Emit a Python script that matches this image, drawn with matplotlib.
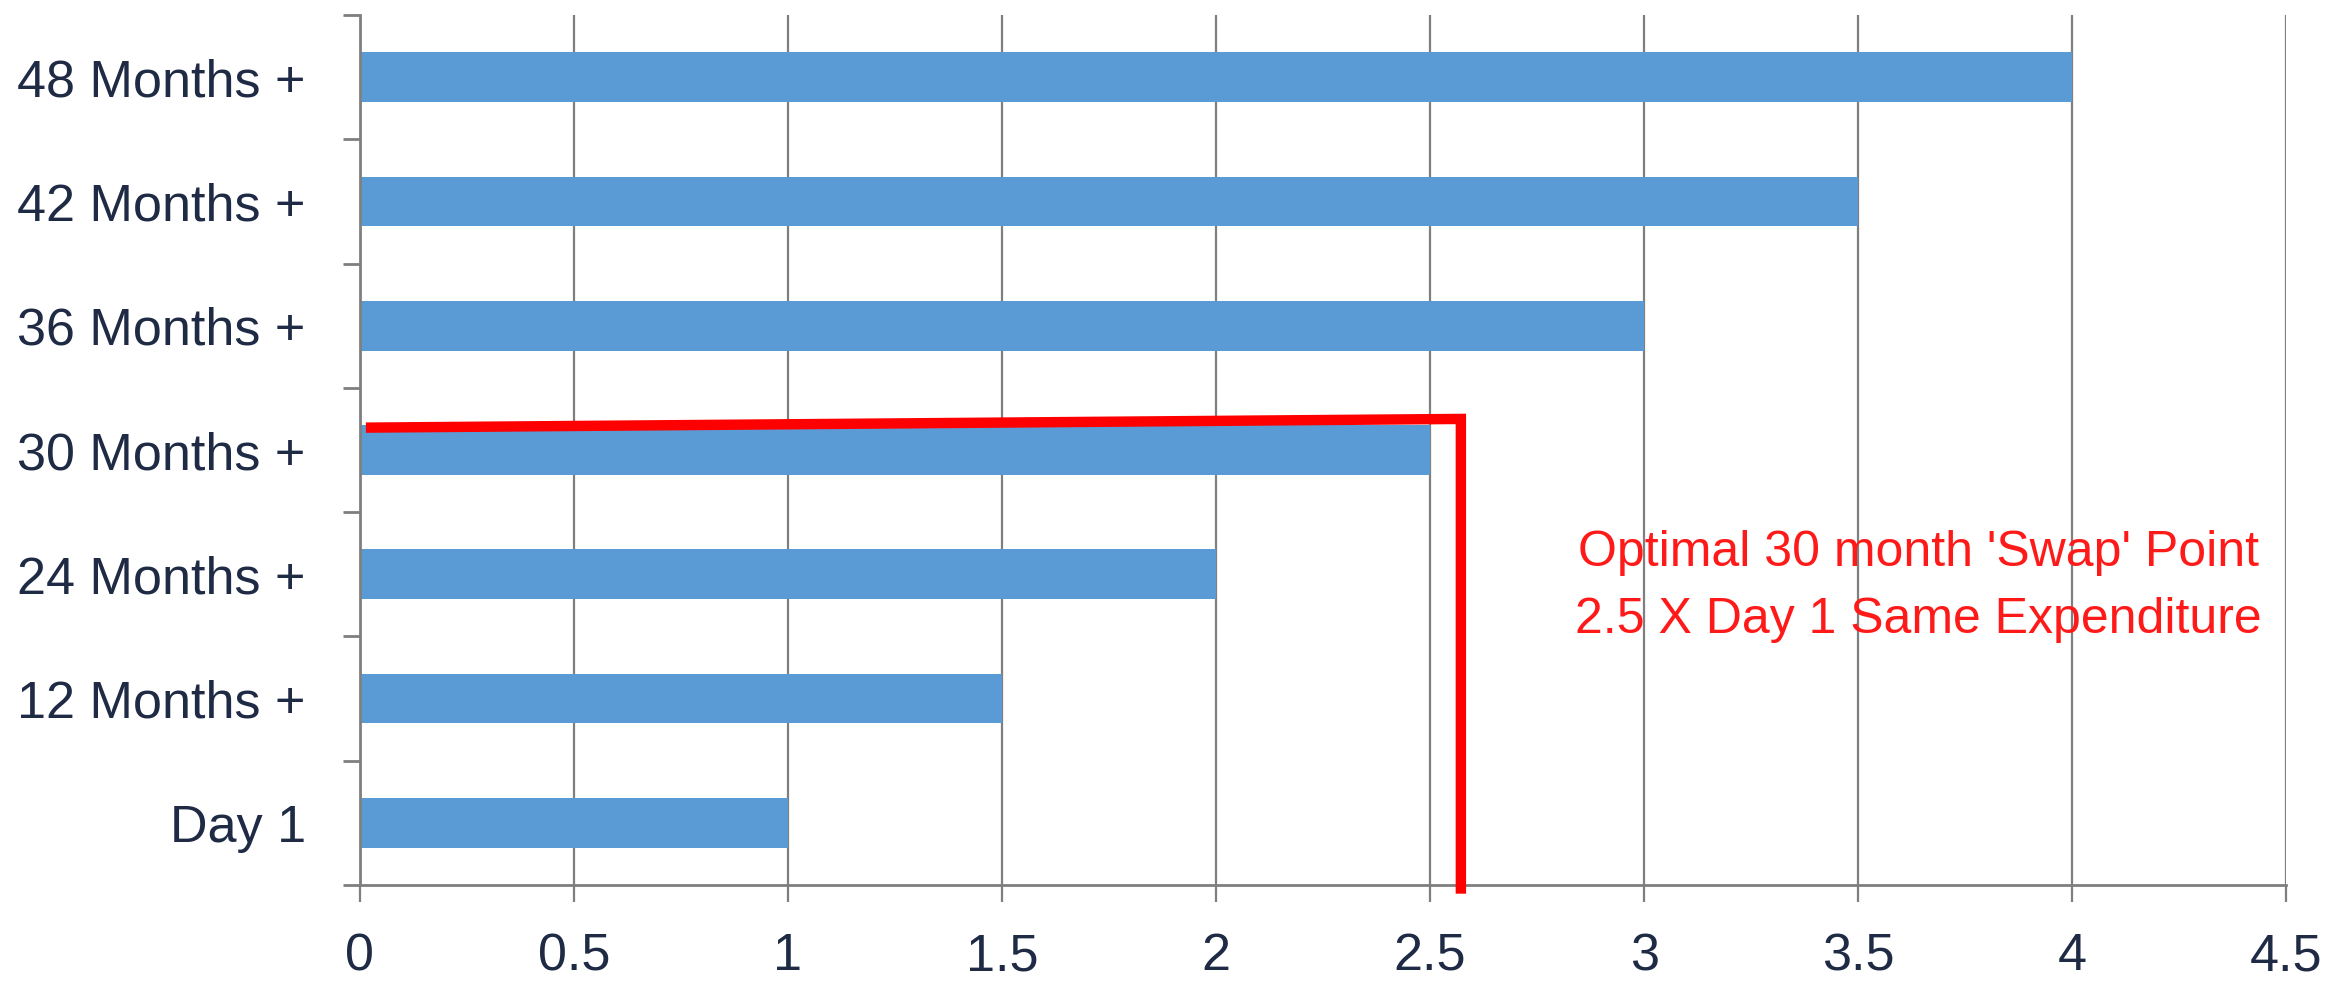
import matplotlib
matplotlib.use("Agg")
import matplotlib.pyplot as plt
import numpy as np

categories = ["Day 1", "12 Months +", "24 Months +", "30 Months +", "36 Months +", "42 Months +", "48 Months +"]
values = [1.0, 1.5, 2.0, 2.5, 3.0, 3.5, 4.0]
xticks = [0, 0.5, 1, 1.5, 2, 2.5, 3, 3.5, 4, 4.5]
xtick_labels = ["0", "0.5", "1", "1.5", "2", "2.5", "3", "3.5", "4", "4.5"]
annot_lines = ["Optimal 30 month 'Swap' Point", "2.5 X Day 1 Same Expenditure"]
red_path_x = [0.014, 2.572, 2.572]
red_path_y = [3.18, 3.25, -0.57]

plt.rcParams['font.family'] = ['Liberation Sans', 'DejaVu Sans']

fig = plt.figure(figsize=(23.4, 9.82), dpi=100)
ax = fig.add_axes([0.1538, 0.0988, 0.977 - 0.1538, 0.9847 - 0.0988])

grid_c = '#7f7f7f'
text_c = '#1f2a44'

y = np.arange(len(categories))
ax.set_axisbelow(True)
ax.barh(y, values, height=0.4, color='#5B9BD5', zorder=2)

ax.set_xlim(0, 4.5)
ax.set_ylim(-0.5, len(categories) - 0.5)

ax.set_xticks(xticks)
ax.set_xticklabels(xtick_labels)
ax.xaxis.grid(True, color=grid_c, linewidth=1.6, zorder=0)

ax.set_yticks(np.arange(-0.5, len(categories), 1.0))
ax.set_yticklabels([])
ax.set_yticks(y, minor=True)
ax.set_yticklabels(categories, minor=True)
ax.tick_params(axis='y', which='minor', length=0, pad=39, labelsize=37.5, labelcolor=text_c)
ax.tick_params(axis='y', which='major', length=12, width=2.0, color=grid_c, direction='out')
ax.tick_params(axis='x', which='major', length=12, width=1.6, color=grid_c, direction='out',
               pad=22, labelsize=37.5, labelcolor=text_c)

for s in ['top', 'right']:
    ax.spines[s].set_visible(False)
for s in ['left', 'bottom']:
    ax.spines[s].set_color(grid_c)
    ax.spines[s].set_linewidth(2.0)

ax.plot(red_path_x, red_path_y, color='#FF0000', linewidth=7.5, solid_joinstyle='miter',
        solid_capstyle='butt', clip_on=False, zorder=5)

ax.text(3.64, 2.17, annot_lines[0], color='#FF1A1A', fontsize=36, ha='center', va='center', zorder=6)
ax.text(3.64, 1.63, annot_lines[1], color='#FF1A1A', fontsize=36, ha='center', va='center', zorder=6)

fig.savefig('out.png', dpi=100)
